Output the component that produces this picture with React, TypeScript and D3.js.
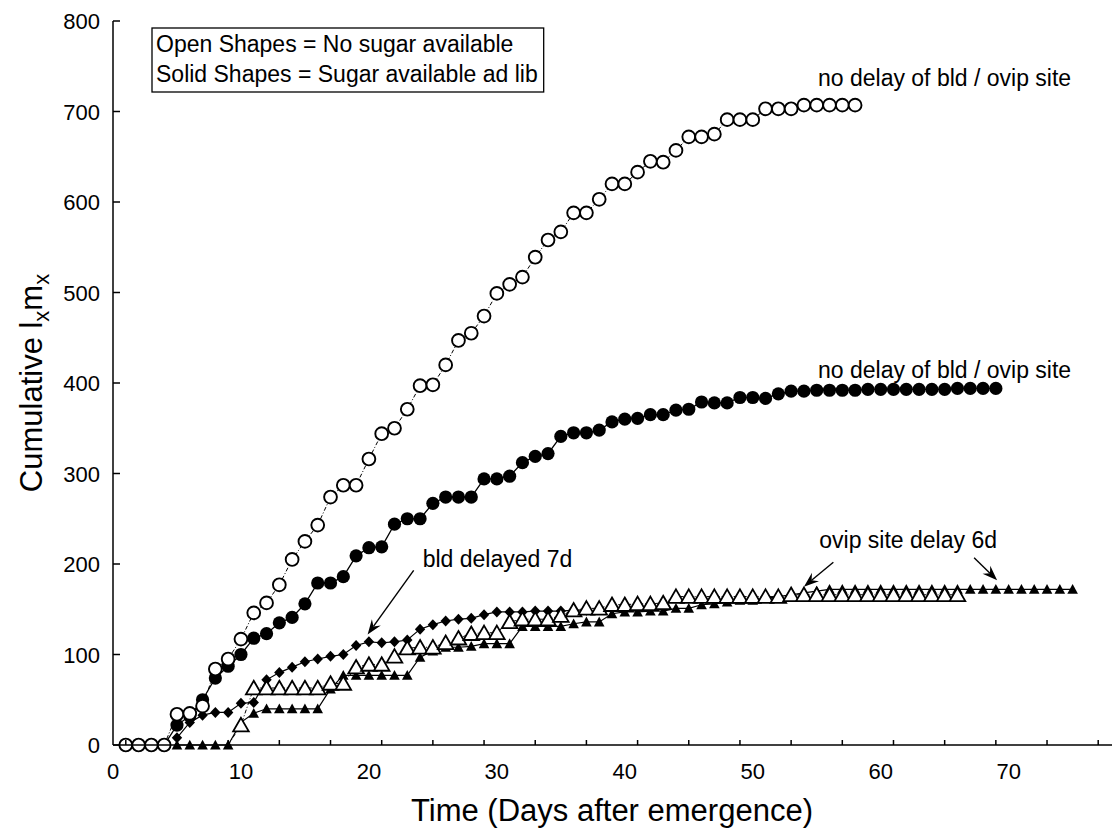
import React, { useEffect, useRef } from 'react';
import * as d3 from 'd3';

// x = days after emergence, each series is one value per day from its start day
const openCircleStart = 1;
const openCircleValues = [0, 0, 0, 0, 34, 35, 43, 84, 95, 117, 146, 157, 177, 205, 225, 243, 274, 287, 287, 316,
  344, 350, 371, 397, 398, 420, 447, 455, 474, 499, 509, 517, 539, 558, 567, 588, 588, 603, 620, 620,
  633, 645, 644, 657, 672, 672, 675, 691, 691, 691, 703, 703, 703, 707, 707, 707, 707, 707];

const filledCircleStart = 1;
const filledCircleValues = [0, 0, 0, 0, 22, 32, 50, 74, 87, 100, 118, 123, 135, 141, 156, 179, 179, 186, 209, 218,
  219, 244, 250, 250, 267, 274, 274, 274, 294, 294, 297, 312, 319, 322, 341, 345, 345, 348, 357, 360,
  361, 365, 365, 370, 371, 379, 378, 378, 384, 384, 383, 388, 391, 391, 392, 392, 392, 392, 393, 393,
  393, 393, 393, 393, 393, 394, 394, 394, 394];

const diamondStart = 5;
const diamondValues = [8, 25, 33, 36, 36, 46, 47, 72, 80, 86, 92, 95, 98, 100, 110, 114, 113, 114, 116, 128,
  133, 137, 139, 140, 144, 147, 147, 147, 148, 148, 148, 149, 149];

const openTriangleStart = 9;
const openTriangleValues = [0, 22, 63, 63, 63, 63, 63, 63, 68, 68, 86, 89, 89, 98, 107, 108, 108, 113, 118, 123,
  124, 124, 136, 139, 139, 139, 143, 149, 151, 151, 155, 155, 156, 156, 157, 164, 164, 164, 164, 164,
  164, 164, 164, 164, 166, 166, 166, 166, 166, 166, 166, 166, 166, 166, 166, 166, 166, 166];

const filledTriangleStart = 5;
const filledTriangleValues = [0, 0, 0, 0, 0, 25, 35, 40, 40, 40, 40, 40, 62, 77, 77, 77, 77, 77, 77, 97,
  104, 108, 108, 109, 112, 112, 112, 131, 131, 131, 131, 134, 136, 136, 145, 147, 147, 148, 148, 151,
  151, 155, 156, 158, 160, 160, 162, 164, 166, 168, 170, 172, 172, 172, 172, 172, 172, 172, 172, 172,
  172, 172, 172, 172, 172, 172, 172, 172, 172, 172, 172];

const xLabels = [0, 10, 20, 30, 40, 50, 60, 70];
const xTicks = [1, 5, 9, 13, 17, 21, 25, 29, 33, 37, 41, 45, 49, 53, 57, 61, 65, 69, 73, 77];
const yTicks = [0, 100, 200, 300, 400, 500, 600, 700, 800];

const legendLines = ['Open Shapes = No sugar available', 'Solid Shapes = Sugar available ad lib'];

// annotations: text anchor [day, value], arrows [tailDay, tailValue, tipDay, tipValue]
const noteTopLabel = { text: 'no delay of bld / ovip site', at: [55.1, 728] };
const noteMidLabel = { text: 'no delay of bld / ovip site', at: [55.1, 405] };
const bldLabel = { text: 'bld delayed 7d', at: [24.2, 197] };
const ovipLabel = { text: 'ovip site delay 6d', at: [55.2, 218] };
const arrows = [
  [23.5, 193, 19.9, 122],
  [56.3, 202, 54.0, 175],
  [67.3, 207, 69.1, 182],
];

const FONT = '"Liberation Sans", Arial, Helvetica, sans-serif';

const toPoints = (start: number, vals: number[]) => vals.map((v, i) => ({ day: start + i, v }));

const App = () => {
  const svgRef = useRef<SVGSVGElement>(null);

  useEffect(() => {
    const svg = d3.select(svgRef.current);
    svg.selectAll('*').remove();

    const x = d3.scaleLinear().domain([0, 78]).range([113, 1111]);
    const y = d3.scaleLinear().domain([0, 800]).range([745, 21]);

    const g = svg.append('g');

    const line = d3.line<{ day: number; v: number }>()
      .x(d => x(d.day))
      .y(d => y(d.v));

    const drawSeries = (
      pts: { day: number; v: number }[],
      lineStyle: { width: number; dash?: string },
      marker: (sel: any) => void,
      keep: (p: { day: number; v: number }) => boolean = () => true,
    ) => {
      g.append('path')
        .datum(pts)
        .attr('fill', 'none')
        .attr('stroke', '#000')
        .attr('stroke-width', lineStyle.width)
        .attr('stroke-dasharray', lineStyle.dash || null)
        .attr('d', line);
      const mg = g.append('g');
      pts.filter(keep).forEach(p => {
        marker(mg.append('g').attr('transform', `translate(${x(p.day)},${y(p.v)})`));
      });
    };

    // filled triangles (sugar, ovip site delayed)
    drawSeries(toPoints(filledTriangleStart, filledTriangleValues), { width: 1.2 }, m => {
      m.append('path').attr('d', 'M0,-5.3L5.3,4.5L-5.3,4.5Z').attr('fill', '#000');
    });

    // diamonds (sugar, blood meal delayed)
    drawSeries(toPoints(diamondStart, diamondValues), { width: 1.2 }, m => {
      m.append('path').attr('d', 'M0,-5.5L5.2,0L0,5.5L-5.2,0Z').attr('fill', '#000');
    });

    // open triangles (no sugar, ovip site delayed)
    drawSeries(toPoints(openTriangleStart, openTriangleValues), { width: 1, dash: '4,2,1,2' }, m => {
      m.append('path').attr('d', 'M0,-7.2L7.8,6.3L-7.8,6.3Z')
        .attr('fill', '#fff').attr('stroke', '#000').attr('stroke-width', 1.8);
    }, p => p.v > 0);

    // filled circles (sugar, no delay)
    drawSeries(toPoints(filledCircleStart, filledCircleValues), { width: 1.3 }, m => {
      m.append('circle').attr('r', 6.6).attr('fill', '#000');
    });

    // open circles (no sugar, no delay)
    drawSeries(toPoints(openCircleStart, openCircleValues), { width: 1, dash: '4,2,1,2' }, m => {
      m.append('circle').attr('r', 6.4).attr('fill', '#fff').attr('stroke', '#000').attr('stroke-width', 1.9);
    });

    // axes
    const axis = svg.append('g').attr('stroke', '#000').attr('stroke-width', 1.5);
    axis.append('line').attr('x1', x(0)).attr('x2', 1112).attr('y1', y(0)).attr('y2', y(0));
    axis.append('line').attr('x1', x(0)).attr('x2', x(0)).attr('y1', y(0)).attr('y2', y(800));
    xTicks.forEach(t => {
      axis.append('line').attr('x1', x(t)).attr('x2', x(t)).attr('y1', y(0)).attr('y2', y(0) - 5);
    });
    yTicks.forEach(t => {
      axis.append('line').attr('x1', x(0)).attr('x2', x(0) + 7).attr('y1', y(t)).attr('y2', y(t));
    });

    const txt = svg.append('g').attr('font-family', FONT).attr('fill', '#000');
    xLabels.forEach(t => {
      txt.append('text').attr('x', x(t)).attr('y', 779).attr('text-anchor', 'middle')
        .attr('font-size', 22).text(String(t));
    });
    yTicks.forEach(t => {
      txt.append('text').attr('x', 100).attr('y', y(t) + 8).attr('text-anchor', 'end')
        .attr('font-size', 22).text(String(t));
    });

    txt.append('text').attr('x', 612).attr('y', 821).attr('text-anchor', 'middle')
      .attr('font-size', 31).text('Time (Days after emergence)');

    const yTitle = txt.append('text')
      .attr('transform', 'translate(42,383) rotate(-90)')
      .attr('text-anchor', 'middle')
      .attr('font-size', 31);
    yTitle.append('tspan').text('Cumulative l');
    yTitle.append('tspan').attr('dy', 7).attr('font-size', 22).text('x');
    yTitle.append('tspan').attr('dy', -7).text('m');
    yTitle.append('tspan').attr('dy', 7).attr('font-size', 22).text('x');

    // annotations
    [noteTopLabel, noteMidLabel, bldLabel, ovipLabel].forEach(n => {
      txt.append('text').attr('x', x(n.at[0])).attr('y', y(n.at[1]))
        .attr('font-size', 23).text(n.text);
    });

    arrows.forEach(([d0, v0, d1, v1]) => {
      const x0 = x(d0), y0 = y(v0), x1 = x(d1), y1 = y(v1);
      const ang = Math.atan2(y1 - y0, x1 - x0);
      const L = 15, W = 5.5, N = 10;
      const bx = x1 - L * Math.cos(ang), by = y1 - L * Math.sin(ang);
      const nx = x1 - N * Math.cos(ang), ny = y1 - N * Math.sin(ang);
      const px = -Math.sin(ang) * W, py = Math.cos(ang) * W;
      svg.append('line').attr('x1', x0).attr('y1', y0).attr('x2', nx).attr('y2', ny)
        .attr('stroke', '#000').attr('stroke-width', 1.4);
      svg.append('path')
        .attr('d', `M${x1},${y1}L${bx + px},${by + py}L${nx},${ny}L${bx - px},${by - py}Z`)
        .attr('fill', '#000');
    });

    // legend box
    const lg = svg.append('g');
    const texts = legendLines.map((l, i) =>
      lg.append('text').attr('x', 156).attr('y', 52 + i * 30)
        .attr('font-family', FONT).attr('font-size', 23).text(l));
    const w = d3.max(texts, t => (t.node() as SVGTextElement).getComputedTextLength()) || 360;
    lg.insert('rect', 'text').attr('x', 152).attr('y', 28).attr('width', w + 10).attr('height', 64)
      .attr('fill', '#fff').attr('stroke', '#000').attr('stroke-width', 1.3);
  }, []);

  return (
    <svg ref={svgRef} width={1112} height={838}
      style={{ position: 'absolute', left: 0, top: 0, background: '#fff' }} />
  );
};

export default App;
